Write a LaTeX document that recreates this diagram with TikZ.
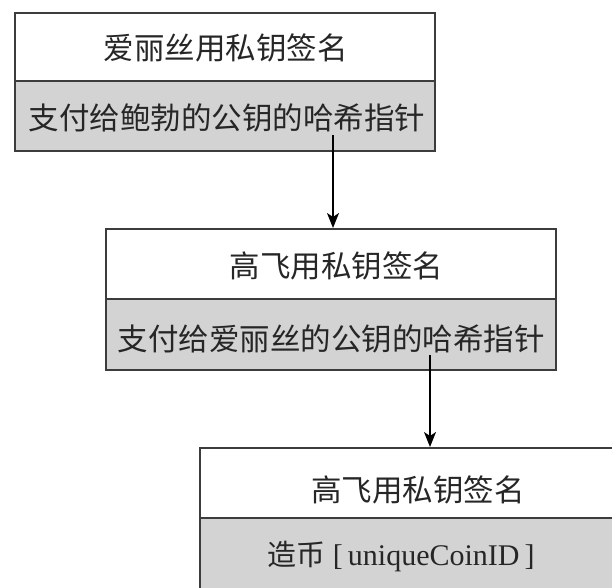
\documentclass[tikz,border=0pt]{standalone}
\usepackage{fontspec}
\setmainfont{Noto Sans CJK SC}
\newfontfamily\lat{Liberation Serif}
\usetikzlibrary{arrows.meta}
\definecolor{boxline}{HTML}{3C3C3C}
\definecolor{boxgrey}{HTML}{D3D3D3}
\tikzset{
  sigbox/.style={draw=boxline, line width=2pt, fill=white, inner sep=0pt, anchor=center},
  ptrbox/.style={draw=boxline, line width=2pt, fill=boxgrey, inner sep=0pt, anchor=center},
  txt/.style={font=\fontsize{30.5}{36}\selectfont, text=black!85, inner sep=0pt},
  link/.style={line width=1.5pt, -{Stealth[length=15pt,width=12pt,inset=4pt]}}
}
\begin{document}
\begin{tikzpicture}[x=1pt,y=-1pt]
\clip (0,0) rectangle (612,587);
\fill[white] (0,0) rectangle (612,587);
% box 1
\node[sigbox, minimum width=420pt, minimum height=68pt] (b1top) at (225,47) {};
\node[ptrbox, minimum width=420pt, minimum height=70pt] (b1bot) at (225,116) {};
\node[txt] (t1a) at (225.5,48) {爱丽丝用私钥签名};
\node[txt] (t1b) at (227,118) {支付给鲍勃的公钥的哈希指针};
% box 2
\node[sigbox, minimum width=450pt, minimum height=70pt] (b2top) at (331,264) {};
\node[ptrbox, minimum width=450pt, minimum height=71pt] (b2bot) at (331,334.5) {};
\node[txt] (t2a) at (336.5,266) {高飞用私钥签名};
\node[txt] (t2b) at (331,339) {支付给爱丽丝的公钥的哈希指针};
% box 3
\node[sigbox, minimum width=440pt, minimum height=70pt] (b3top) at (420,483) {};
\node[ptrbox, minimum width=440pt, minimum height=80pt] (b3bot) at (420,558) {};
\node[txt] (t3a) at (418,490) {高飞用私钥签名};
\node[txt, font=\fontsize{29}{34}\selectfont] (t3b) at (401,556) {造币{\lat\fontsize{30}{34}\selectfont\ [\,uniqueCoinID\,]}};
% connectors
\coordinate (a1) at (333,135);
\coordinate (a2) at (430,355);
\draw[link] (a1) -- (a1 |- b2top.north);
\draw[link] (a2) -- (a2 |- b3top.north);
\end{tikzpicture}
\end{document}
